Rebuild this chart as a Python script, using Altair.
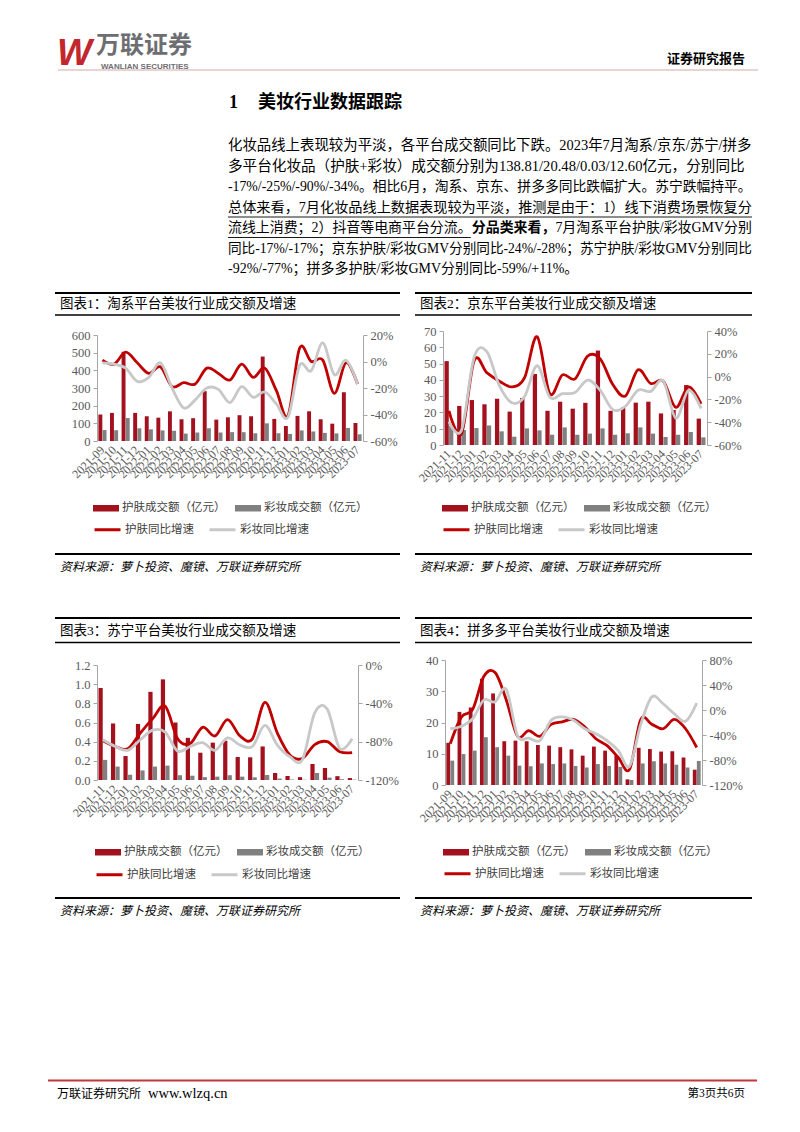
import altair as alt
import pandas as pd

CJK = "Noto Sans CJK SC"
SERIF = "Liberation Serif"
MIX = "Liberation Serif, Noto Sans CJK SC"
W, H = 800, 1132

# ---------------- data ----------------
months_a = ["2021-09", "2021-10", "2021-11", "2021-12", "2022-01", "2022-02", "2022-03",
            "2022-04", "2022-05", "2022-06", "2022-07", "2022-08", "2022-09", "2022-10",
            "2022-11", "2022-12", "2023-01", "2023-02", "2023-03", "2023-04", "2023-05",
            "2023-06", "2023-07"]
months_b = ["2021-11", "2021-12", "2022-01", "2022-02", "2022-03", "2022-04", "2022-05",
            "2022-06", "2022-07", "2022-08", "2022-09", "2022-10", "2022-11", "2022-12",
            "2023-01", "2023-02", "2023-03", "2023-04", "2023-05", "2023-06", "2023-07"]

BAR_NAMES = ["护肤成交额（亿元）", "彩妆成交额（亿元）"]
LINE_NAMES = ["护肤同比增速", "彩妆同比增速"]

# 图表1 淘系
tb_skin = [150, 159, 505, 159, 140, 132, 168, 123, 129, 282, 121, 134, 146, 140, 478, 125,
           85, 142, 168, 123, 98, 276, 102]
tb_makeup = [62, 61, 130, 72, 66, 60, 58, 42, 48, 72, 48, 50, 50, 44, 100, 44, 40, 60, 54,
             46, 43, 74, 38]
tb_skin_g = [1, -2, 7, -1, -9, -4, -19, -16, -17, -5, -9, -14, -2, -12, -5, -22, -41, 10, 0,
             1, -24, -1, -17]
tb_makeup_g = [-1, -2, -5, -15, -12, -1, -20, -35, -29, -20, -21, -31, -19, -27, -23, -32,
               -42, -3, -7, 14, -10, 1, -17]

# 图表2 京东
jd_skin = [51.5, 24, 27.6, 25, 28.4, 20.5, 28.9, 43.6, 21, 26.6, 22.3, 25.9, 58, 21, 23, 26,
           26.6, 19.4, 21.5, 36.8, 16.2]
jd_makeup = [11.7, 9.2, 10.4, 12, 8.4, 5.1, 10.2, 9, 6.3, 10.8, 6.3, 7, 10.2, 6.3, 7.2, 10.8,
             7, 4.9, 6.3, 8, 4.7]
jd_skin_g = [-30, -50, 14, 3.5, -4, -9, -1, 35, -15, 1.5, -2, 18, 15.5, -7, -17, 6, -6, -4,
             -27, -9, -24]
jd_makeup_g = [-39.5, -47, 17, 22, -8, -23, -17.5, 9.5, -18, -15, -14, -3, -12, -29, -26,
               -12, -13, -4, -36.5, -12, -28]

# 图表3 苏宁
sn_skin = [0.96, 0.59, 0.25, 0.585, 0.92, 1.05, 0.60, 0.44, 0.285, 0.39, 0.41, 0.24, 0.237,
           0.35, 0.073, 0.042, 0.03, 0.167, 0.125, 0.04, 0.02]
sn_makeup = [0.21, 0.14, 0.055, 0.10, 0.14, 0.15, 0.05, 0.045, 0.03, 0.035, 0.05, 0.035,
             0.028, 0.052, 0.015, 0.005, 0.003, 0.073, 0.025, 0.008, 0.004]
sn_skin_g = [-79, -85, -87.5, -71, -56, -43, -77, -82, -65, -74, -57, -74, -77, -39, -71,
             -94, -97.5, -83, -80, -90.5, -91.5]
sn_makeup_g = [-78, -85, -89, -78, -68, -70, -90, -85, -81, -89, -76, -83.5, -85, -63, -83.5,
               -95.6, -99, -50, -46, -87, -77]

# 图表4 拼多多
pdd_skin = [13.5, 23.4, 24.8, 34, 29.3, 14, 14.2, 14, 12.8, 12.6, 12.1, 11.4, 9.4, 12.3, 11,
            9.5, 1.8, 11.9, 11.5, 10.7, 10.8, 8.8, 4.9]
pdd_makeup = [7.8, 9.9, 11, 15.3, 12.1, 9.4, 6.2, 6.0, 6.9, 6.7, 6.9, 6.1, 5.6, 6.7, 6.1,
              5.8, 1.6, 6.9, 7.6, 6.9, 6.5, 5.6, 7.7]
pdd_skin_g = [-54, -11, 1, 54, 60, 16, -42, -33, -42, -23, -19, -15, -27, -46, -57, -76, -95,
              -15.5, -23, -30, -15, -30, -60]
pdd_makeup_g = [-30, -26, -14, 16, 13, 33, -41, -45, -49, -16.5, -11, -16.5, -30, -38, -49,
                -65, -90, -23, 21, 10, -6, -18, 11]

# axis ticks
tb_ticks = [0, 100, 200, 300, 400, 500, 600]
tb_pct_ticks = [-60, -40, -20, 0, 20]
jd_ticks = [0, 10, 20, 30, 40, 50, 60, 70]
jd_pct_ticks = [-60, -40, -20, 0, 20, 40]
sn_ticks = [0, 0.2, 0.4, 0.6, 0.8, 1.0, 1.2]
sn_pct_ticks = [-120, -80, -40, 0]
pdd_ticks = [0, 10, 20, 30, 40]
pdd_pct_ticks = [-120, -80, -40, 0, 40, 80]

chart_titles = ["图表1：淘系平台美妆行业成交额及增速", "图表2：京东平台美妆行业成交额及增速",
                "图表3：苏宁平台美妆行业成交额及增速", "图表4：拼多多平台美妆行业成交额及增速"]
source_text = "资料来源：萝卜投资、魔镜、万联证券研究所"

para = [
    "化妆品线上表现较为平淡，各平台成交额同比下跌。2023年7月淘系/京东/苏宁/拼多",
    "多平台化妆品（护肤+彩妆）成交额分别为138.81/20.48/0.03/12.60亿元，分别同比",
    "-17%/-25%/-90%/-34%。相比6月，淘系、京东、拼多多同比跌幅扩大。苏宁跌幅持平。",
    "总体来看，7月化妆品线上数据表现较为平淡，推测是由于：1）线下消费场景恢复分",
]
para5 = ["流线上消费；2）抖音等电商平台分流。", "分品类来看，", "7月淘系平台护肤/彩妆GMV分别"]
para_tail = [
    "同比-17%/-17%；京东护肤/彩妆GMV分别同比-24%/-28%；苏宁护肤/彩妆GMV分别同比",
    "-92%/-77%；拼多多护肤/彩妆GMV分别同比-59%/+11%。",
]

BAR_RED, BAR_GRAY = "#A3111F", "#808080"
LINE_RED, LINE_GRAY = "#C00000", "#C8C8C8"
LABEL = "#595959"
AXIS = "#A6A6A6"

# approximate advance widths (em) of Latin glyphs in Liberation Serif
LAT = {"-": 0.333, "%": 0.833, "/": 0.278, ".": 0.25, "+": 0.564, "G": 0.722, "M": 0.889,
       "V": 0.722, " ": 0.25}


def em_width(s):
    w = 0.0
    for ch in s:
        if ord(ch) > 0x2000:
            w += 1.0
        elif ch.isdigit():
            w += 0.5
        else:
            w += LAT.get(ch, 0.5)
    return w


TEXT_L, TEXT_R = 228, 752


def fit_size(s):
    return max(13.4, min(14.6, (TEXT_R - TEXT_L) / em_width(s)))


def T(s, x, y, size=14, font=MIX, weight="normal", color="#000000", align="left",
      style="normal"):
    return alt.Chart(pd.DataFrame({"t": [s]})).mark_text(
        x=x, y=y, align=align, baseline="middle", font=font, fontSize=size,
        fontWeight=weight, fontStyle=style, color=color).encode(text="t:N")


def R(x1, x2, y, w=1.0, color="#000000"):
    return alt.Chart(pd.DataFrame({"k": [0]})).mark_rule(color=color, strokeWidth=w).encode(
        x=alt.value(x1), x2=alt.value(x2), y=alt.value(y))


def panel(months, skin, makeup, skin_g, makeup_g, xr, yr, ydom, yvals, yfmt, pdom, pvals,
          lx, ly1, ly2):
    n = len(months)
    bars_df = pd.DataFrame({"m": months * 2, "s": [BAR_NAMES[0]] * n + [BAR_NAMES[1]] * n,
                            "v": skin + makeup})
    lines_df = pd.DataFrame({"m": months * 2, "s": [LINE_NAMES[0]] * n + [LINE_NAMES[1]] * n,
                             "p": skin_g + makeup_g})
    lab_df = pd.DataFrame({"m": months})
    yaxis = alt.Axis(orient="left", offset=-xr[0], values=yvals, format=yfmt, title=None,
                     grid=False, domainColor=AXIS, tickColor=AXIS, tickSize=4,
                     labelFont=SERIF, labelFontSize=12.5, labelColor=LABEL, labelPadding=3)
    paxis = alt.Axis(orient="right", offset=xr[1] - W, values=pvals,
                     labelExpr="datum.value + '%'", title=None, grid=False, domainColor=AXIS,
                     tickColor=AXIS, tickSize=4, labelFont=SERIF, labelFontSize=12.5,
                     labelColor=LABEL, labelPadding=3)
    bars = alt.Chart(bars_df).mark_bar().encode(
        x=alt.X("m:N", scale=alt.Scale(domain=months, range=xr, paddingInner=0.3,
                                       paddingOuter=0.12), axis=None),
        xOffset=alt.XOffset("s:N", scale=alt.Scale(domain=BAR_NAMES, paddingInner=0.06)),
        y=alt.Y("v:Q", scale=alt.Scale(domain=ydom, range=list(yr), nice=False), axis=yaxis),
        fill=alt.Fill("s:N", scale=alt.Scale(domain=BAR_NAMES, range=[BAR_RED, BAR_GRAY]),
                      legend=alt.Legend(orient="none", legendX=lx, legendY=ly1 - 13,
                                        direction="horizontal", title=None,
                                        symbolType="M-1,-0.25H1V0.25H-1Z", symbolSize=676,
                                        symbolStrokeWidth=0, labelFont=CJK,
                                        labelFontSize=11.5, labelColor="#404040",
                                        labelOffset=3, columnPadding=9, padding=0,
                                        labelLimit=300)),
    )
    xlabels = alt.Chart(lab_df).mark_text(
        angle=315, align="right", baseline="middle", font=SERIF, fontSize=12,
        color=LABEL).encode(
        x=alt.X("m:N", scale=alt.Scale(domain=months), axis=None),
        y=alt.value(yr[0] + 7),
        text="m:N",
    )
    lines = alt.Chart(lines_df).mark_line(interpolate="cardinal", strokeWidth=2.8).encode(
        x=alt.X("m:N", scale=alt.Scale(domain=months), axis=None),
        y=alt.Y("p:Q", scale=alt.Scale(domain=pdom, range=list(yr), nice=False, zero=False),
                axis=paxis),
        stroke=alt.Stroke("s:N", scale=alt.Scale(domain=LINE_NAMES, range=[LINE_RED, LINE_GRAY]),
                          legend=alt.Legend(orient="none", legendX=lx, legendY=ly2 - 13,
                                            direction="horizontal", title=None,
                                            symbolType="stroke", symbolSize=676,
                                            symbolStrokeWidth=3, labelFont=CJK,
                                            labelFontSize=11.5, labelColor="#404040",
                                            labelOffset=3, columnPadding=9, padding=0,
                                            labelLimit=300,
                                            labelExpr="datum.label + '\u3000\u3000\u3000'")),
    )
    return alt.layer(bars, xlabels, lines).resolve_scale(y="independent")


c1 = panel(months_a, tb_skin, tb_makeup, tb_skin_g, tb_makeup_g, [97, 363], [441, 335],
           [0, 600], tb_ticks, "d", [-60, 20], tb_pct_ticks, 93, 508, 528)
c2 = panel(months_b, jd_skin, jd_makeup, jd_skin_g, jd_makeup_g, [443, 707], [445, 331],
           [0, 70], jd_ticks, "d", [-60, 40], jd_pct_ticks, 442, 508, 528)
c3 = panel(months_b, sn_skin, sn_makeup, sn_skin_g, sn_makeup_g, [97, 358], [780, 665],
           [0, 1.2], sn_ticks, ".1f", [-120, 0], sn_pct_ticks, 95, 852, 873)
c4 = panel(months_a, pdd_skin, pdd_makeup, pdd_skin_g, pdd_makeup_g, [445, 702], [785, 660],
           [0, 40], pdd_ticks, "d", [-120, 80], pdd_pct_ticks, 443, 852, 872)

deco = []
# header
deco.append(T("W", 57, 54, size=37, font="Liberation Sans", weight="bold", style="italic",
              color="#C1272D"))
deco.append(T("万联证券", 96, 46, size=24, font=CJK, weight="bold", color="#6D6E71"))
deco.append(T("WANLIAN SECURITIES", 101, 67, size=8, font="Liberation Sans", weight="bold",
              color="#6D6E71"))
deco.append(R(58, 758, 70, 1.2, "#D4A9AA"))
deco.append(T("证券研究报告", 745, 59, size=13, font=CJK, weight="bold", align="right"))
deco.append(T("1", 229, 103, size=18, font=SERIF, weight="bold"))
deco.append(T("美妆行业数据跟踪", 258, 103, size=18, font=CJK, weight="bold"))

# paragraph (justified lines approximated by fitting the font size to the text width)
PY = [146, 166.5, 187, 207.5, 228, 248.5, 269]
for i, s in enumerate(para):
    deco.append(T(s, TEXT_L, PY[i], size=fit_size(s)))
deco.append(R(TEXT_L, TEXT_R, PY[3] + 9.5, 0.9, "#000000"))
s5 = fit_size("".join(para5))
xa = TEXT_L
xb = xa + em_width(para5[0]) * s5
xc = xb + em_width(para5[1]) * s5
deco.append(T(para5[0], xa, PY[4], size=s5))
deco.append(R(xa, xb - 1, PY[4] + 9.5, 0.9, "#000000"))
deco.append(T(para5[1], xb, PY[4], size=s5, weight="bold"))
deco.append(T(para5[2], xc, PY[4], size=s5))
deco.append(T(para_tail[0], TEXT_L, PY[5], size=fit_size(para_tail[0])))
deco.append(T(para_tail[1], TEXT_L, PY[6], size=14))

# chart frames
frames = [(55, 400, 293, 304, 315, 554, 567), (415, 752, 293, 304, 315, 554, 567),
          (55, 400, 618, 631, 642.5, 898, 911), (415, 752, 618, 631, 642.5, 898, 911)]
for k, (x0, x1, yt, ytt, yb, ys, yst) in enumerate(frames):
    deco.append(R(x0, x1, yt, 2.2))
    deco.append(T(chart_titles[k], x0 + 5, ytt, size=13.5))
    deco.append(R(x0, x1, yb, 1.3))
    deco.append(R(x0, x1, ys, 1.8))
    deco.append(T(source_text, x0 + 5, yst, size=12, style="italic"))

# footer
deco.append(R(48, 757, 1080.5, 2, "#C0393B"))
deco.append(T("万联证券研究所", 57, 1094, size=12))
deco.append(T("www.wlzq.cn", 148, 1094, size=14.5, font=SERIF))
deco.append(T("第3页共6页", 745, 1094, size=11.5, align="right"))

chart = alt.layer(*deco, c1, c2, c3, c4).resolve_scale(
    x="independent", y="independent", xOffset="independent", fill="independent",
    stroke="independent"
).properties(
    width=W, height=H, autosize=alt.AutoSizeParams(type="none"), padding=0,
    background="white"
).configure_view(stroke=None)

chart.save("out.html", embed_options={"renderer": "svg", "actions": False})
